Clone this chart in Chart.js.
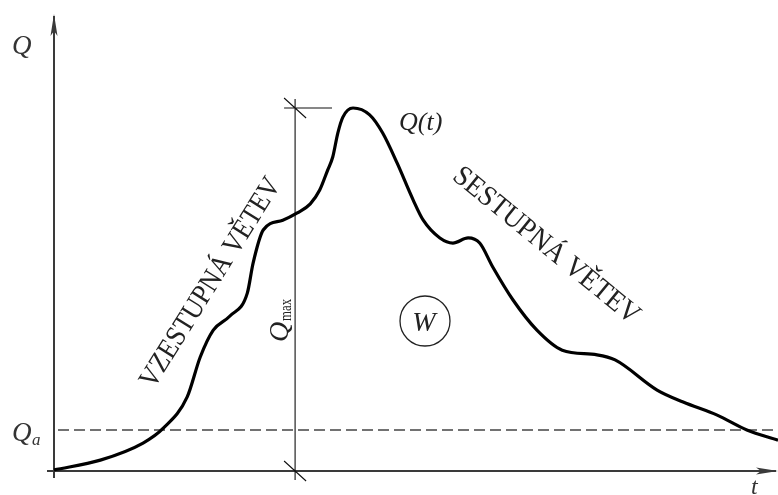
<!DOCTYPE html>
<html>
<head>
<meta charset="utf-8">
<script src="https://cdn.jsdelivr.net/npm/chart.js@4"></script>
<style>
html,body{margin:0;padding:0;background:#fff;}
#wrap{width:778px;height:495px;position:relative;}
</style>
</head>
<body>
<div id="wrap"><canvas id="c" width="778" height="495"></canvas></div>
<script>
// Hydrograph Q(t) (t: 0–100, Q: Qmax = 100)
const tValues = [0, 6.4, 12.3, 15.1, 18.4, 20.2, 22.0, 24.3, 26.7, 27.5, 28.9, 31.6, 33.6, 35.4, 36.7, 37.8, 38.5, 39.2, 39.9, 41.3, 43.6, 45.4, 47.4, 49.6, 51.0, 53.3, 55.1, 57.2, 58.8, 60.6, 63.4, 66.7, 70.2, 75.0, 77.5, 83.3, 86.9, 91.6, 95.7, 100];
const qValues = [0.3, 3.0, 7.7, 11.8, 20.4, 31.4, 38.8, 42.7, 49.0, 57.3, 66.4, 69.1, 71.1, 73.6, 77.4, 82.9, 86.5, 93.1, 97.5, 100, 98.1, 93.1, 84.8, 74.7, 69.1, 64.2, 62.8, 64.2, 62.8, 56.2, 47.1, 38.8, 33.3, 32.0, 30.6, 22.3, 19.0, 15.4, 11.3, 8.5];
const qA = 11.3;          // threshold discharge Qa
const qMax = 100;         // peak discharge
const tQmaxLine = 33.3;   // position of the Qmax dimension line
const tQmaxTop = 38.4;    // right end of the Qmax extension line
const yAxisMax = 125.9;
const labels = {
  yAxis: 'Q', xAxis: 't', qa: 'Q', qaSub: 'a', qt: 'Q(t)', w: 'W',
  qmax: 'Q', qmaxSub: 'max', rising: 'VZESTUPNÁ VĚTEV', falling: 'SESTUPNÁ VĚTEV'
};

const points = tValues.map((t, i) => ({x: t, y: qValues[i]}));
const SERIF = '"Liberation Serif", "DejaVu Serif", serif';

function fitText(ctx, text, cx, cy, angle, targetLen, font) {
  ctx.save();
  ctx.font = font;
  const w = ctx.measureText(text).width;
  ctx.translate(cx, cy);
  ctx.rotate(angle);
  ctx.scale(targetLen / w, 1);
  ctx.textAlign = 'center';
  ctx.textBaseline = 'middle';
  ctx.fillText(text, 0, 0);
  ctx.restore();
}

const decor = {
  id: 'decor',
  beforeDatasetsDraw(chart) {
    const ctx = chart.ctx;
    const xs = chart.scales.x, ys = chart.scales.y;
    const x0 = xs.getPixelForValue(0), y0 = ys.getPixelForValue(0);
    const xEnd = xs.getPixelForValue(100), yTop = ys.getPixelForValue(yAxisMax);
    ctx.save();
    // dashed Qa line
    const yqa = ys.getPixelForValue(qA);
    ctx.strokeStyle = '#444';
    ctx.lineWidth = 1.7;
    ctx.setLineDash([11, 5]);
    ctx.beginPath(); ctx.moveTo(x0 + 4, yqa); ctx.lineTo(xEnd, yqa); ctx.stroke();
    ctx.setLineDash([]);
    // axes
    ctx.strokeStyle = '#3a3a3a';
    ctx.lineWidth = 2;
    ctx.beginPath();
    ctx.moveTo(x0, y0 + 7); ctx.lineTo(x0, yTop + 2);
    ctx.moveTo(x0 - 7, y0); ctx.lineTo(xEnd - 2, y0);
    ctx.stroke();
    // arrow heads
    ctx.fillStyle = '#3a3a3a';
    ctx.beginPath();
    ctx.moveTo(x0, yTop); ctx.lineTo(x0 - 3.5, yTop + 22); ctx.lineTo(x0, yTop + 17); ctx.lineTo(x0 + 3.5, yTop + 22); ctx.closePath(); ctx.fill();
    ctx.beginPath();
    ctx.moveTo(xEnd, y0); ctx.lineTo(xEnd - 22, y0 - 3.5); ctx.lineTo(xEnd - 17, y0); ctx.lineTo(xEnd - 22, y0 + 3.5); ctx.closePath(); ctx.fill();
    // Qmax dimension line
    const xd = xs.getPixelForValue(tQmaxLine);
    const ytop = ys.getPixelForValue(qMax);
    ctx.strokeStyle = '#111';
    ctx.lineWidth = 1.1;
    ctx.beginPath();
    ctx.moveTo(xd, ytop - 9); ctx.lineTo(xd, y0 + 9);
    ctx.moveTo(xd - 11, ytop); ctx.lineTo(xs.getPixelForValue(tQmaxTop), ytop);
    ctx.moveTo(xd - 11, ytop - 10); ctx.lineTo(xd + 11, ytop + 10);
    ctx.moveTo(xd - 11, y0 - 10); ctx.lineTo(xd + 11, y0 + 10);
    ctx.stroke();
    ctx.restore();
  },
  afterDatasetsDraw(chart) {
    const ctx = chart.ctx;
    ctx.save();
    ctx.fillStyle = '#333';
    ctx.textBaseline = 'alphabetic';
    ctx.textAlign = 'left';
    // Q axis label
    ctx.font = 'italic 27px ' + SERIF;
    ctx.fillText(labels.yAxis, 12, 54);
    // Qa
    ctx.fillText(labels.qa, 12, 441);
    ctx.font = 'italic 17px ' + SERIF;
    ctx.fillText(labels.qaSub, 32, 445);
    // t
    ctx.font = 'italic 24px ' + SERIF;
    ctx.fillText(labels.xAxis, 751, 494);
    // Q(t)
    ctx.fillStyle = '#222';
    ctx.font = 'italic 26px ' + SERIF;
    ctx.fillText(labels.qt, 399, 130);
    // W in circle
    ctx.strokeStyle = '#222';
    ctx.lineWidth = 1.3;
    ctx.beginPath(); ctx.arc(425, 321, 25, 0, Math.PI * 2); ctx.stroke();
    ctx.font = 'italic 28px ' + SERIF;
    ctx.textAlign = 'center';
    ctx.fillText(labels.w, 424, 331);
    // Qmax rotated
    ctx.save();
    ctx.translate(288, 342);
    ctx.rotate(-Math.PI / 2);
    ctx.textAlign = 'left';
    ctx.font = 'italic 28px ' + SERIF;
    ctx.fillText(labels.qmax, 0, 0);
    ctx.font = '16px ' + SERIF;
    ctx.save(); ctx.scale(0.8, 1);
    ctx.fillText(labels.qmaxSub, 21 / 0.8, 3);
    ctx.restore();
    ctx.restore();
    // branch labels
    fitText(ctx, labels.rising, 211, 283, Math.atan2(-215, 134), 242, '29px ' + SERIF);
    fitText(ctx, labels.falling, 546, 246, Math.atan2(150, 184), 232, '29px ' + SERIF);
    ctx.restore();
  }
};

new Chart(document.getElementById('c'), {
  type: 'line',
  data: {
    datasets: [{
      data: points,
      borderColor: '#000',
      borderWidth: 3.2,
      pointRadius: 0,
      fill: false,
      cubicInterpolationMode: 'monotone',
      clip: false
    }]
  },
  options: {
    responsive: false,
    animation: false,
    layout: {padding: {left: 54, right: 0, top: 14, bottom: 24}},
    plugins: {legend: {display: false}, tooltip: {enabled: false}},
    scales: {
      x: {type: 'linear', min: 0, max: 100, display: false},
      y: {type: 'linear', min: 0, max: yAxisMax, display: false}
    }
  },
  plugins: [decor]
});
</script>
</body>
</html>
